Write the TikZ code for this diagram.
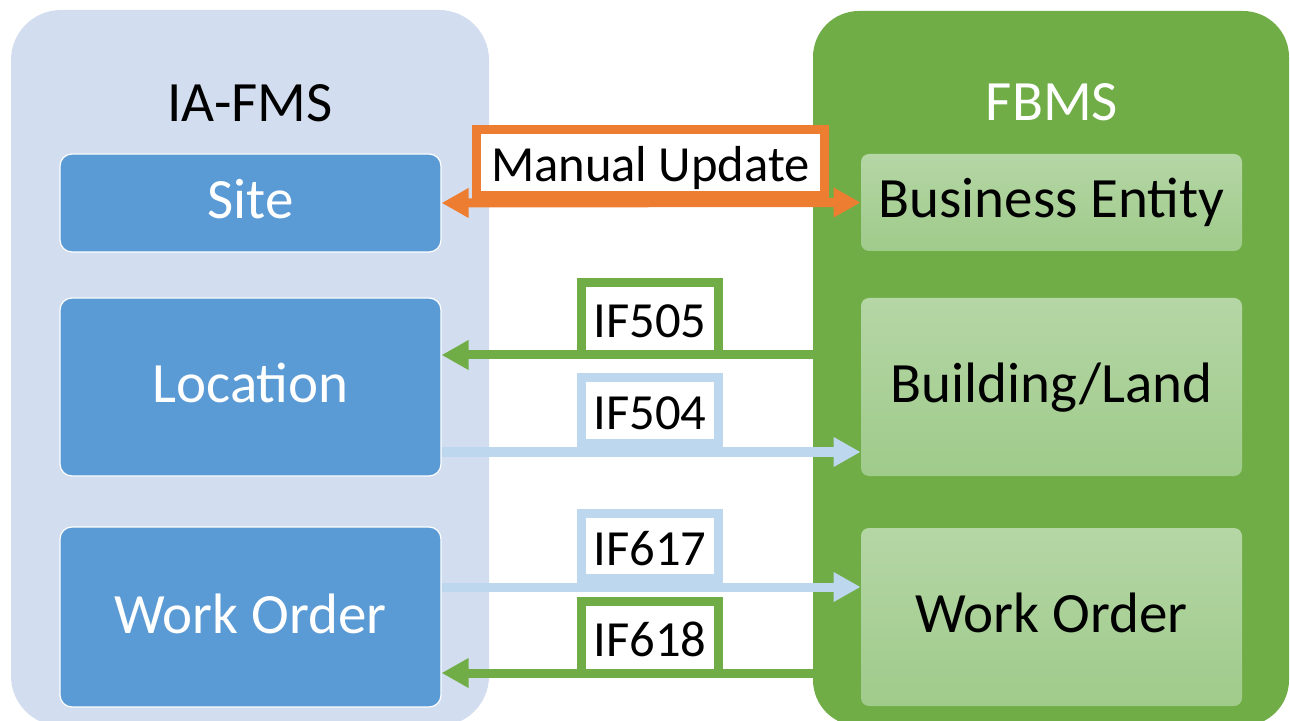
\documentclass[tikz,border=0pt]{standalone}
\usepackage{fontspec}
\setmainfont{Carlito}
\usetikzlibrary{arrows.meta}
\definecolor{panelblue}{HTML}{D2DEEF}
\definecolor{boxblue}{HTML}{5B9BD5}
\definecolor{panelgreen}{HTML}{70AD47}
\definecolor{boxgreentop}{HTML}{B5D6A5}
\definecolor{boxgreenbot}{HTML}{9FCB8B}
\definecolor{orng}{HTML}{ED7D31}
\definecolor{ltblue}{HTML}{BDD7EE}
\begin{document}
\begin{tikzpicture}[x=0.5pt,y=-0.5pt,
  bigfont/.style={font=\fontsize{28.5}{34}\selectfont},
  leftbox/.style={draw=white, line width=0.6pt, fill=boxblue, rounded corners=6pt,
    minimum width=190.5pt, text=white, bigfont, text height=16pt, text depth=0pt, inner sep=0pt},
  rightbox/.style={top color=boxgreentop, bottom color=boxgreenbot, rounded corners=4pt,
    minimum width=190.5pt, text=black, bigfont, text height=15pt, text depth=0pt, inner sep=0pt},
  tag/.style={fill=white, line width=4.5pt, minimum width=68.5pt, inner sep=0pt,
    text height=19pt, text depth=0pt, font=\fontsize{25.3}{30}\selectfont},
  tip/.tip={Triangle[length=13.5pt,width=14pt]},
  conn/.style={line width=4.5pt, -tip},
]
\useasboundingbox (0,0) rectangle (1290,721);
% panels
\fill[panelblue, rounded corners=25pt] (11,10) rectangle (489,726);
\fill[panelgreen, rounded corners=23pt] (813,11) rectangle (1289,726);
% titles
\node[anchor=base, bigfont, text=black] (tleft) at (250,122) {IA-FMS};
\node[anchor=base, bigfont, text=white] (tright) at (1052,121) {FBMS};
% left boxes
\node[leftbox, minimum height=49pt] (site) at (250.5,203) {Site};
\node[leftbox, minimum height=89pt] (loc) at (250.5,387) {Location};
\node[leftbox, minimum height=90pt] (wol) at (250.5,617) {Work Order};
% right boxes
\node[rightbox, minimum height=48.5pt] (be) at (1051.5,202.5) {Business Entity};
\node[rightbox, minimum height=89pt] (bl) at (1051.5,387) {Building/Land};
\node[rightbox, minimum height=89pt] (wor) at (1051.5,617) {Work Order};
% connectors
\draw[conn, orng, tip-tip] (site.east) -- (be.west);
\draw[conn, panelgreen] (bl.west |- 0,355) -- (loc.east |- 0,355);
\draw[conn, ltblue] (loc.east |- 0,452) -- (bl.west |- 0,452);
\draw[conn, ltblue] (wol.east |- 0,587) -- (wor.west |- 0,587);
\draw[conn, panelgreen] (wor.west |- 0,673) -- (wol.east |- 0,673);
% tags
\node[tag, draw=orng, minimum width=174pt, minimum height=33pt, text height=19.5pt] (mu) at (650.5,162.5) {Manual Update};
\node[tag, draw=panelgreen, minimum height=36pt] (if505) at (650,318.5) {IF505};
\node[tag, draw=ltblue, minimum height=33pt] (if504) at (650,410.5) {IF504};
\node[tag, draw=ltblue, minimum height=32.5pt] (if617) at (650,546) {IF617};
\node[tag, draw=panelgreen, minimum height=36pt] (if618) at (650,637.5) {IF618};
\end{tikzpicture}
\end{document}
